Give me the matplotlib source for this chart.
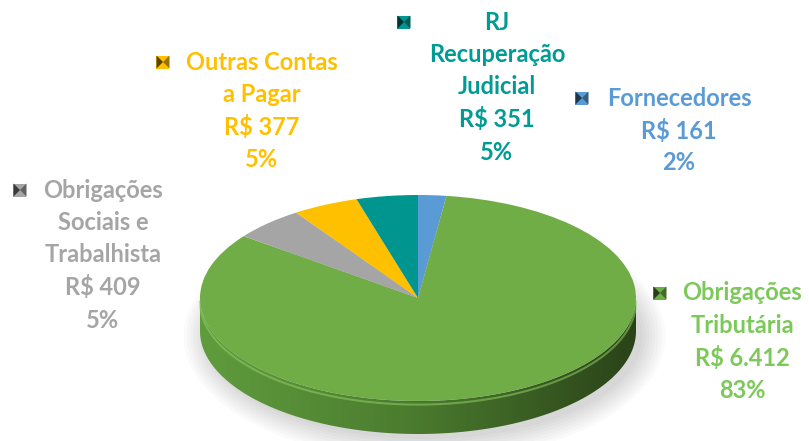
import numpy as np
import matplotlib.pyplot as plt
from matplotlib.patches import Polygon, Ellipse

# dados do grafico (sentido horario a partir do topo)
categorias = ['Fornecedores', 'Obrigações\nTributária', 'Obrigações\nSociais e\nTrabalhista',
              'Outras Contas\na Pagar', 'RJ\nRecuperação\nJudicial']
valores = [161, 6412, 409, 377, 351]
rotulos_valor = ['R$ 161', 'R$ 6.412', 'R$ 409', 'R$ 377', 'R$ 351']
cores = ['#5b9bd5', '#70ad47', '#a5a5a5', '#ffc000', '#00968f']
cores_texto = ['#5b9bd5', '#7cc95a', '#a5a5a5', '#ffc000', '#009b95']

W, H = 809, 441
fig = plt.figure(figsize=(W / 100, H / 100), dpi=100)
ax = fig.add_axes([0, 0, 1, 1])

cx, cy = 418, 298      # centro da pizza em pixels
rx, ry = 218, 103      # raio horizontal / vertical
depth = 33 / ry

# sombra
for k in range(8):
    ax.add_patch(Ellipse((0.03, -depth - 0.05), 2.0 + 0.03 * k, 2.0 + 0.06 * k,
                         color='#000000', alpha=0.018, lw=0, zorder=0.1))

# lateral (3d) - gradiente recortado pelo contorno
ts = np.linspace(np.pi, 2 * np.pi, 200)
contorno = np.vstack([np.column_stack([np.cos(ts), np.sin(ts)]),
                      np.column_stack([np.cos(ts[::-1]), np.sin(ts[::-1]) - depth])])
lado = Polygon(contorno, closed=True, facecolor='none', lw=0)
ax.add_patch(lado)
xx = np.linspace(-1, 1, 400)
c = (xx + 1) / 2
left = np.array([0x60, 0x9c, 0x3d]) / 255
mid = np.array([0x4a, 0x7a, 0x2e]) / 255
right = np.array([0x2a, 0x42, 0x18]) / 255
grad = np.where(c[:, None] < 0.5, left + (mid - left) * (c[:, None] / 0.5),
                mid + (right - mid) * ((c[:, None] - 0.5) / 0.5))
img = ax.imshow(grad[None, :, :], extent=(-1, 1, -1 - depth, 0.1), aspect='auto',
                zorder=0.5, interpolation='bilinear')
img.set_clip_path(lado)
ax.plot(np.cos(ts), np.sin(ts) - 0.035, color='#8fd063', lw=1.5, alpha=0.55, zorder=0.6)

wedges, _ = ax.pie(valores, colors=cores, startangle=90, counterclock=False, radius=1,
                   wedgeprops=dict(linewidth=0))
for w in wedges:
    w.set_zorder(1)
ax.set_aspect('auto')
ax.set_xlim(-cx / rx, (W - cx) / rx)
ax.set_ylim(-(H - cy) / ry, cy / ry)
ax.axis('off')

# rotulos
ov = fig.add_axes([0, 0, 1, 1])
ov.set_xlim(0, W)
ov.set_ylim(H, 0)
ov.axis('off')

pos_texto = [(679, 98), (742, 293), (103, 190), (262, 62), (497, 22)]
pos_marca = [(582, 98), (660, 293), (20, 190), (163, 62), (404, 22)]
total = sum(valores)


def escurecer(hexcor, f):
    r, g, b = [int(hexcor[i:i + 2], 16) / 255 for i in (1, 3, 5)]
    return (r * f, g * f, b * f)


for i in range(len(valores)):
    linhas = categorias[i].split('\n') + [rotulos_valor[i], '%d%%' % round(valores[i] / total * 100)]
    x0, y0 = pos_texto[i]
    for j, ln in enumerate(linhas):
        ov.text(x0, y0 + j * 32.5, ln, ha='center', va='center', fontsize=17,
                fontweight='bold', family='Lato', color=cores_texto[i])
    mx, my = pos_marca[i]
    s = 6.5
    ov.add_patch(Polygon([(mx - s, my - s), (mx + s, my - s), (mx + s, my + s), (mx - s, my + s)],
                         color=cores[i], lw=0))
    ov.add_patch(Polygon([(mx - s, my - s), (mx, my), (mx - s, my + s)], color=escurecer(cores[i], 0.35), lw=0))
    ov.add_patch(Polygon([(mx + s, my - s), (mx, my), (mx + s, my + s)], color=escurecer(cores[i], 0.6), lw=0))

fig.savefig('out.png', dpi=100)
